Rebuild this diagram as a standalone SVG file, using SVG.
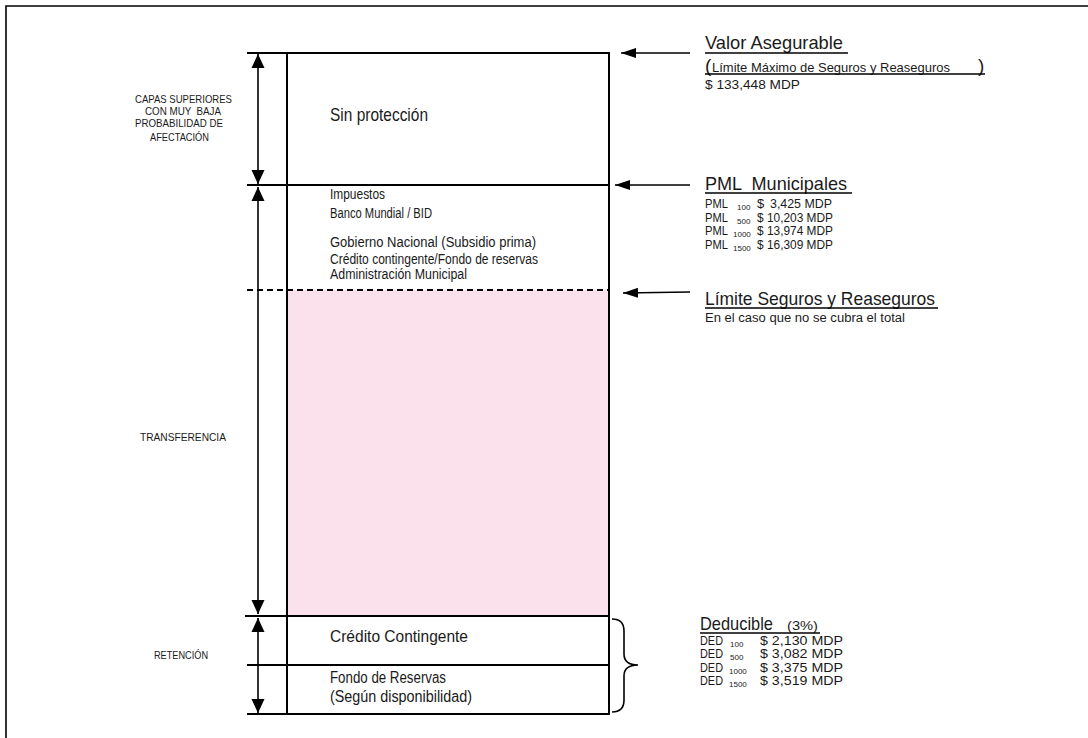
<svg xmlns="http://www.w3.org/2000/svg" width="1088" height="738" viewBox="0 0 1088 738">
<style>
text{font-family:"Liberation Sans",Arial,sans-serif;fill:#1a1a1a;white-space:pre}
.lbl{font-size:11px}
.box{font-size:14px}
.big{font-size:19px}
.mid{font-size:16px}
.sm{font-size:13px}
.sub{font-size:8px}
.ln{stroke:#000;stroke-width:2;fill:none}
.thin{stroke:#000;stroke-width:1.6;fill:none}
</style>
<defs>
<marker id="av" viewBox="0 0 14 14" refX="14" refY="7" markerWidth="14" markerHeight="14" orient="auto-start-reverse" markerUnits="userSpaceOnUse">
<path d="M0,0.5 L14,7 L0,13.5 z" fill="#000"/>
</marker>
<marker id="ah" viewBox="0 0 15 10" refX="15" refY="5" markerWidth="15" markerHeight="10" orient="auto" markerUnits="userSpaceOnUse">
<path d="M0,0 L15,5 L0,10 z" fill="#000"/>
</marker>
</defs>
<path d="M6,740 V6 H1090" class="thin"/>

<g id="transfer-area">
<rect x="288" y="290" width="321" height="326" fill="#fbe1eb"/>
</g>

<g id="column">
<line x1="287" y1="53" x2="287" y2="714" class="ln"/>
<line x1="609" y1="53" x2="609" y2="714" class="ln"/>
<line x1="247" y1="53" x2="610" y2="53" class="ln"/>
<line x1="247" y1="185" x2="610" y2="185" class="ln"/>
<line x1="245" y1="616" x2="610" y2="616" class="ln"/>
<line x1="247" y1="665" x2="610" y2="665" class="ln"/>
<line x1="247" y1="714" x2="610" y2="714" class="ln"/>
<line x1="247" y1="290" x2="610" y2="290" stroke="#000" stroke-width="1.8" stroke-dasharray="6,4"/>
</g>

<g id="connectors">
<line x1="258" y1="54" x2="258" y2="184" class="thin" marker-start="url(#av)" marker-end="url(#av)"/>
<line x1="258" y1="187" x2="258" y2="614" class="thin" marker-start="url(#av)" marker-end="url(#av)"/>
<line x1="258" y1="618" x2="258" y2="713" class="thin" marker-start="url(#av)" marker-end="url(#av)"/>
<line x1="690" y1="53" x2="621" y2="53" class="thin" marker-end="url(#ah)"/>
<line x1="690" y1="185" x2="615" y2="185" class="thin" marker-end="url(#ah)"/>
<line x1="690" y1="292" x2="623" y2="293" class="thin" marker-end="url(#ah)"/>
<path d="M612,619 Q624,619 624,631 L624,654 Q624,665 638,665 Q624,665 624,676 L624,700 Q624,712 612,712" class="thin"/>
</g>

<g id="left-labels">
<text class="lbl" x="135" y="103" textLength="97" lengthAdjust="spacingAndGlyphs">CAPAS SUPERIORES</text>
<text class="lbl" x="145" y="115" textLength="76" lengthAdjust="spacingAndGlyphs">CON MUY  BAJA</text>
<text class="lbl" x="135" y="127" textLength="88" lengthAdjust="spacingAndGlyphs">PROBABILIDAD DE</text>
<text class="lbl" x="150" y="141" textLength="59" lengthAdjust="spacingAndGlyphs">AFECTACIÓN</text>
<text class="lbl" x="140" y="441" textLength="86" lengthAdjust="spacingAndGlyphs">TRANSFERENCIA</text>
<text class="lbl" x="154" y="659" textLength="54" lengthAdjust="spacingAndGlyphs">RETENCIÓN</text>
</g>

<g id="sin-proteccion">
<text class="big" x="330" y="121" textLength="98" lengthAdjust="spacingAndGlyphs">Sin protección</text>
</g>

<g id="pml-layer">
<text class="box" x="330" y="199" textLength="55" lengthAdjust="spacingAndGlyphs">Impuestos</text>
<text class="box" x="330" y="218" textLength="102" lengthAdjust="spacingAndGlyphs">Banco Mundial / BID</text>
<text class="box" x="330" y="247" textLength="206" lengthAdjust="spacingAndGlyphs">Gobierno Nacional (Subsidio prima)</text>
<text class="box" x="330" y="264" textLength="208" lengthAdjust="spacingAndGlyphs">Crédito contingente/Fondo de reservas</text>
<text class="box" x="330" y="279" textLength="137" lengthAdjust="spacingAndGlyphs">Administración Municipal</text>
</g>

<g id="credito-contingente">
<text class="mid" x="330" y="642" textLength="138" lengthAdjust="spacingAndGlyphs">Crédito Contingente</text>
</g>

<g id="fondo-reservas">
<text class="mid" x="330" y="683" textLength="116" lengthAdjust="spacingAndGlyphs">Fondo de Reservas</text>
<text class="mid" x="330" y="702" textLength="142" lengthAdjust="spacingAndGlyphs">(Según disponibilidad)</text>
</g>

<g id="valor-asegurable">
<text class="big" x="705" y="49" textLength="138" lengthAdjust="spacingAndGlyphs">Valor Asegurable</text>
<line x1="705" y1="53" x2="848" y2="53" class="thin"/>
<text class="big" x="705" y="72">(</text>
<text style="font-size:13.5px" x="712" y="72" textLength="238" lengthAdjust="spacingAndGlyphs">Límite Máximo de Seguros y Reaseguros</text>
<text class="big" x="978" y="72">)</text>
<line x1="705" y1="74" x2="985" y2="74" class="thin"/>
<text class="sm" x="705" y="89" textLength="95" lengthAdjust="spacingAndGlyphs">$ 133,448 MDP</text>
</g>

<g id="pml-municipales">
<text class="big" x="705" y="190" textLength="142" lengthAdjust="spacingAndGlyphs">PML  Municipales</text>
<line x1="705" y1="193" x2="852" y2="193" class="thin"/>
<text class="sm" x="705" y="208" textLength="23" lengthAdjust="spacingAndGlyphs">PML</text>
<text class="sub" x="737" y="210">100</text>
<text class="sm" x="757" y="208">$</text>
<text class="sm" x="770" y="208" textLength="62" lengthAdjust="spacingAndGlyphs">3,425 MDP</text>
<text class="sm" x="705" y="222" textLength="23" lengthAdjust="spacingAndGlyphs">PML</text>
<text class="sub" x="737" y="224">500</text>
<text class="sm" x="757" y="222" textLength="76" lengthAdjust="spacingAndGlyphs">$ 10,203 MDP</text>
<text class="sm" x="705" y="235" textLength="23" lengthAdjust="spacingAndGlyphs">PML</text>
<text class="sub" x="733" y="237">1000</text>
<text class="sm" x="757" y="235" textLength="76" lengthAdjust="spacingAndGlyphs">$ 13,974 MDP</text>
<text class="sm" x="705" y="249" textLength="23" lengthAdjust="spacingAndGlyphs">PML</text>
<text class="sub" x="733" y="251">1500</text>
<text class="sm" x="757" y="249" textLength="76" lengthAdjust="spacingAndGlyphs">$ 16,309 MDP</text>
</g>

<g id="limite-seguros">
<text class="big" x="705" y="305" textLength="230" lengthAdjust="spacingAndGlyphs">Límite Seguros y Reaseguros</text>
<line x1="705" y1="308" x2="938" y2="308" class="thin"/>
<text style="font-size:12.5px" x="705" y="322" textLength="200" lengthAdjust="spacingAndGlyphs">En el caso que no se cubra el total</text>
</g>

<g id="deducible">
<text class="big" x="700" y="630" textLength="73" lengthAdjust="spacingAndGlyphs">Deducible</text>
<text style="font-size:13px" x="787" y="630" textLength="31" lengthAdjust="spacingAndGlyphs">(3%)</text>
<line x1="700" y1="633" x2="820" y2="633" class="thin"/>
<text class="sm" x="700" y="645" textLength="23" lengthAdjust="spacingAndGlyphs">DED</text>
<text class="sub" x="730" y="647">100</text>
<text class="sm" x="760" y="645" textLength="83" lengthAdjust="spacingAndGlyphs">$ 2,130 MDP</text>
<text class="sm" x="700" y="658" textLength="23" lengthAdjust="spacingAndGlyphs">DED</text>
<text class="sub" x="730" y="660">500</text>
<text class="sm" x="760" y="658" textLength="83" lengthAdjust="spacingAndGlyphs">$ 3,082 MDP</text>
<text class="sm" x="700" y="672" textLength="23" lengthAdjust="spacingAndGlyphs">DED</text>
<text class="sub" x="729" y="674">1000</text>
<text class="sm" x="760" y="672" textLength="83" lengthAdjust="spacingAndGlyphs">$ 3,375 MDP</text>
<text class="sm" x="700" y="685" textLength="23" lengthAdjust="spacingAndGlyphs">DED</text>
<text class="sub" x="729" y="687">1500</text>
<text class="sm" x="760" y="685" textLength="83" lengthAdjust="spacingAndGlyphs">$ 3,519 MDP</text>
</g>
</svg>
